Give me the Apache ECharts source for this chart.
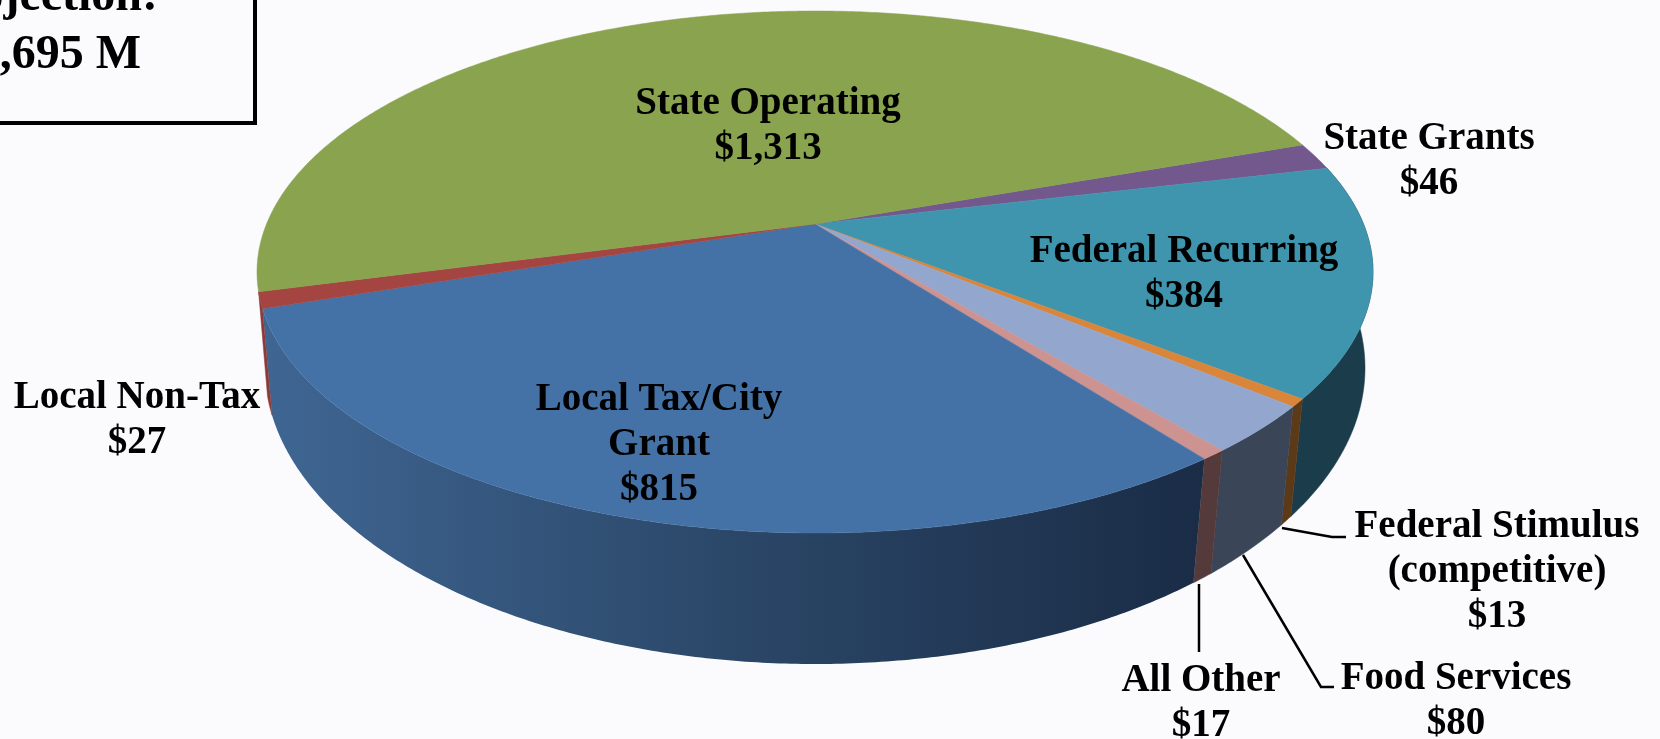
<!DOCTYPE html>
<html><head><meta charset="utf-8">
<style>html,body{margin:0;padding:0;background:#fbfbfd;overflow:hidden}#c{width:1660px;height:739px}</style>
<script src="https://cdn.jsdelivr.net/npm/echarts@6/dist/echarts.min.js"></script>
</head><body><div id="c"></div>
<script>
// Data, clockwise from the State Operating / State Grants boundary
const categories = ['State Grants','Federal Recurring','Federal Stimulus\n(competitive)','Food Services','All Other','Local Tax/City\nGrant','Local Non-Tax','State Operating'];
const values = [46,384,13,80,17,815,27,1313];
const topColors = ['#72588c','#4095ae','#d9853a','#92a6ce','#cd9391','#4472a6','#a44542','#89a34f'];
const sideColors = [null,'#1b3c4a','#5c3a18','#3a4558','#553a3c','blue','#8a3a38',null];
const labelPos = [[1429,138],[1184,251],[1497,526],[1456,678],[1201,680],[659,399],[137,397],[768,103]];
const totalText = ['Projection:','$2,695 M'];

const total = values.reduce((a,b)=>a+b,0);
const START = 70.56;
const TOP = {cx:815,cy:272,rx:558,ry:261,k:-0.184};
const BOTTOM = {cx:815,cy:368,rx:550,ry:296,k:-0.165};
const starts = []; values.reduce((a,v,i)=>(starts[i]=a,a+v),0);
const toDeg = v => echarts.number.linearMap(v,[0,total],[START,START+360]);
function rim(deg,e){
  const t = deg*Math.PI/180, u = Math.sin(t), v = -Math.cos(t);
  const d = 1+e.k*v;
  return [e.cx+e.rx*u*Math.sqrt(1-e.k*e.k)/d, e.cy+e.ry*(v+e.k)/d];
}
function arc(i,e){
  const a = toDeg(starts[i]), b = toDeg(starts[i]+values[i]), n = Math.max(2,Math.ceil((b-a)*2)), pts=[];
  for(let j=0;j<=n;j++) pts.push(rim(a+(b-a)*j/n,e));
  return pts;
}
const blueSide = new echarts.graphic.LinearGradient(0,0,1,0,[
  {offset:0,color:'#3f6693'},{offset:0.5,color:'#2b4768'},{offset:1,color:'#1a2c46'}]);

const leaders = [
 [[1282,528],[1332,537],[1346,537]],
 [[1243,555],[1321,687],[1334,687]],
 [[1199,584],[1199,652]]
];
const rows = values.map((v,i)=>[i,v]);
const option = {
  animation:false,
  backgroundColor:'#fbfbfd',
  series:[
   {type:'custom',coordinateSystem:'none',z:1,silent:true,data:rows,
    renderItem(p,api){
      const i=api.value(0);
      if(!sideColors[i]) return {type:'group',children:[]};
      const poly=arc(i,TOP).concat(arc(i,BOTTOM).reverse());
      return {type:'polygon',shape:{points:poly},style:{fill:sideColors[i]==='blue'?blueSide:sideColors[i],stroke:sideColors[i]==='blue'?null:sideColors[i],lineWidth:0.5}};
    }},
   {type:'custom',coordinateSystem:'none',z:2,silent:true,data:rows,
    renderItem(p,api){
      const i=api.value(0);
      const poly=[[TOP.cx,TOP.cy+TOP.ry*TOP.k]].concat(arc(i,TOP));
      return {type:'polygon',shape:{points:poly},style:{fill:topColors[i],stroke:topColors[i],lineWidth:0.5}};
    }}
  ],
  graphic:[
   ...leaders.map(pts=>({type:'polyline',z:3,shape:{points:pts},style:{stroke:'#000',lineWidth:2.5,fill:null}})),
   {type:'rect',z:3,shape:{x:-20,y:-20,width:275,height:143},style:{fill:'#fbfbfd',stroke:'#000',lineWidth:4}},
   {type:'text',z:4,x:158,y:-2,style:{text:totalText[0],font:'bold 48px "Liberation Serif"',textAlign:'right',textVerticalAlign:'middle',fill:'#000'}},
   {type:'text',z:4,x:141,y:56,style:{text:totalText[1],font:'bold 48px "Liberation Serif"',textAlign:'right',textVerticalAlign:'middle',fill:'#000'}},
   ...categories.map((c,i)=>({type:'text',z:4,x:labelPos[i][0],y:labelPos[i][1]-22,style:{
      text:c+'\n$'+values[i].toLocaleString('en-US'),font:'bold 39px "Liberation Serif"',lineHeight:45,
      textAlign:'center',textVerticalAlign:'top',fill:'#000'}}))
  ]
};
const chart = echarts.init(document.getElementById('c'),null,{renderer:'canvas',width:1660,height:739});
chart.setOption(option);
</script></body></html>
